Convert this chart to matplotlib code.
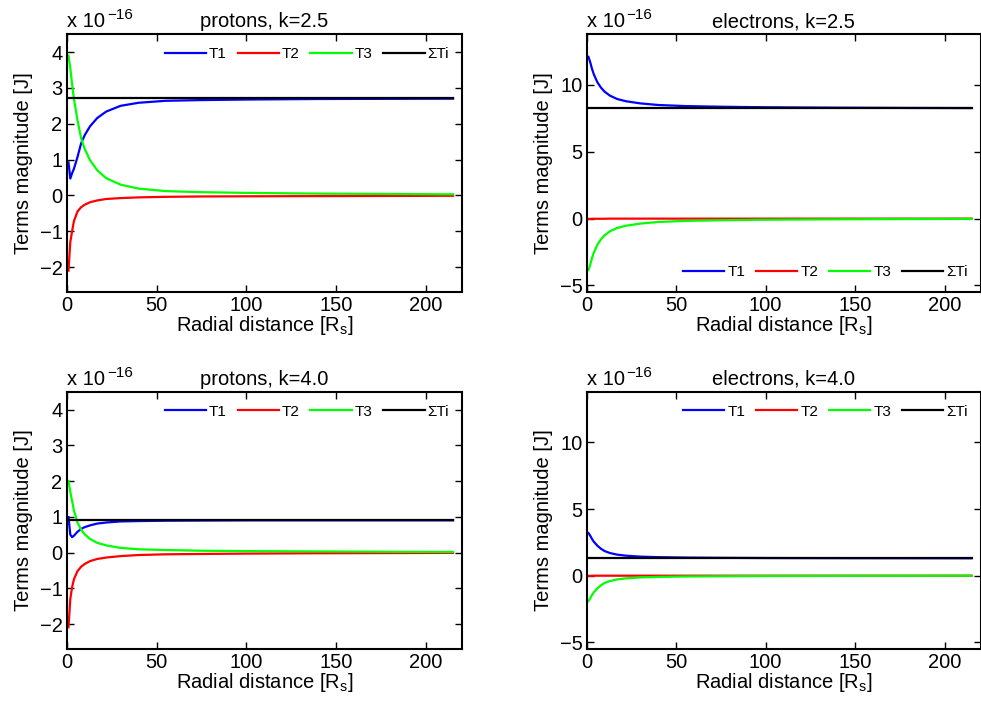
import numpy as np
import matplotlib
matplotlib.use("Agg")
import matplotlib.pyplot as plt

plt.rcParams['font.family'] = ['Liberation Sans', 'DejaVu Sans']
plt.rcParams['mathtext.default'] = 'regular'

# radial distance samples [R_s]
r = [1, 2, 3, 4, 6, 8, 10, 13, 17, 22, 30, 40, 55, 75, 100, 140, 180, 215]
r_sum = [1, 215]

# protons, k=2.5  (units of 1e-16 J)
p25_t1 = [0.92, 0.47, 0.62, 0.74, 1.07, 1.45, 1.68, 1.93, 2.16, 2.34, 2.5, 2.585, 2.64, 2.66, 2.675, 2.69, 2.695, 2.7]
p25_t2 = [-2.1, -1.3, -1.0, -0.72, -0.45, -0.33, -0.26, -0.19, -0.14, -0.1, -0.075, -0.055, -0.04, -0.03, -0.025, -0.02, -0.015, -0.01]
p25_t3 = [3.9, 3.55, 3.1, 2.7, 2.1, 1.6, 1.3, 0.98, 0.7, 0.48, 0.3, 0.19, 0.12, 0.09, 0.07, 0.05, 0.04, 0.03]
p25_sum = [2.72, 2.72]

# electrons, k=2.5
e25_t1 = [12.1, 11.7, 11.2, 10.8, 10.2, 9.8, 9.5, 9.2, 8.95, 8.78, 8.62, 8.5, 8.42, 8.37, 8.33, 8.3, 8.28, 8.27]
e25_t2 = [-0.02, -0.02, -0.01, -0.01, -0.01, -0.01, -0.01, 0, 0, 0, 0, 0, 0, 0, 0, 0, 0, 0]
e25_t3 = [-3.85, -3.45, -2.95, -2.55, -1.95, -1.55, -1.25, -0.95, -0.7, -0.53, -0.37, -0.25, -0.17, -0.12, -0.08, -0.05, -0.03, -0.02]
e25_sum = [8.25, 8.25]

# protons, k=4.0
p40_t1 = [0.99, 0.5, 0.43, 0.47, 0.58, 0.66, 0.71, 0.76, 0.81, 0.84, 0.87, 0.88, 0.89, 0.895, 0.9, 0.9, 0.9, 0.9]
p40_t2 = [-2.09, -1.3, -0.97, -0.75, -0.52, -0.4, -0.32, -0.24, -0.18, -0.14, -0.1, -0.07, -0.05, -0.04, -0.03, -0.02, -0.015, -0.01]
p40_t3 = [2.0, 1.7, 1.44, 1.18, 0.84, 0.64, 0.51, 0.38, 0.27, 0.2, 0.13, 0.09, 0.07, 0.05, 0.04, 0.03, 0.02, 0.015]
p40_sum = [0.9, 0.9]

# electrons, k=4.0
e40_t1 = [3.2, 3.0, 2.75, 2.55, 2.25, 2.02, 1.85, 1.7, 1.58, 1.5, 1.43, 1.39, 1.36, 1.34, 1.325, 1.315, 1.31, 1.305]
e40_t2 = [-0.01, -0.01, -0.01, 0, 0, 0, 0, 0, 0, 0, 0, 0, 0, 0, 0, 0, 0, 0]
e40_t3 = [-1.9, -1.7, -1.45, -1.25, -0.95, -0.72, -0.55, -0.4, -0.28, -0.2, -0.13, -0.09, -0.06, -0.04, -0.025, -0.015, -0.01, -0.005]
e40_sum = [1.3, 1.3]

panels = [
    ("protons, k=2.5", p25_t1, p25_t2, p25_t3, p25_sum, [0.068, 0.585, 0.403, 0.3665], (-2.7, 4.5), [-2, -1, 0, 1, 2, 3, 4], 'upper right'),
    ("electrons, k=2.5", e25_t1, e25_t2, e25_t3, e25_sum, [0.598, 0.585, 0.4015, 0.3665], (-5.5, 13.8), [-5, 0, 5, 10], 'lower right'),
    ("protons, k=4.0", p40_t1, p40_t2, p40_t3, p40_sum, [0.068, 0.0781, 0.403, 0.3655], (-2.7, 4.5), [-2, -1, 0, 1, 2, 3, 4], 'upper right'),
    ("electrons, k=4.0", e40_t1, e40_t2, e40_t3, e40_sum, [0.598, 0.0781, 0.4015, 0.3655], (-5.5, 13.8), [-5, 0, 5, 10], 'upper right'),
]

fig = plt.figure(figsize=(9.81, 7.04), dpi=100)

for title, t1, t2, t3, tot, pos, ylim, yticks, loc in panels:
    ax = fig.add_axes(pos)
    ax.plot(r, t1, color=(0, 0, 1), lw=1.6, label='T1')
    ax.plot(r, t2, color=(1, 0, 0), lw=1.6, label='T2')
    ax.plot(r, t3, color=(0, 1, 0), lw=1.6, label='T3')
    ax.plot(r_sum, tot, color='k', lw=1.6, label='ΣTi')
    ax.set_xlim(0, 220)
    ax.set_ylim(*ylim)
    ax.set_xticks([0, 50, 100, 150, 200])
    ax.set_yticks(yticks)
    ax.tick_params(direction='in', top=True, right=True, length=5, width=1,
                   labelsize=14.5, pad=3)
    for s in ax.spines.values():
        s.set_linewidth(1.5)
    ax.set_title(title, fontsize=14.5, pad=5)
    ax.set_xlabel('Radial distance [R$_{s}$]', fontsize=14.5, labelpad=-1)
    ax.set_ylabel('Terms magnitude [J]', fontsize=14.5, labelpad=5)
    base = ax.text(0.0, 1.012, 'x 10', transform=ax.transAxes, fontsize=14.5,
                   ha='left', va='bottom')
    ax.annotate('\u221216', xy=(1.0, 0.47), xycoords=base,
                xytext=(1.5, 0), textcoords='offset points',
                fontsize=11, ha='left', va='bottom')
    ax.legend(loc=loc, ncol=4, frameon=False, fontsize=11, handlelength=2.7,
              handletextpad=0.2, columnspacing=0.7, borderaxespad=0.45)

fig.savefig('out.png', dpi=100)
